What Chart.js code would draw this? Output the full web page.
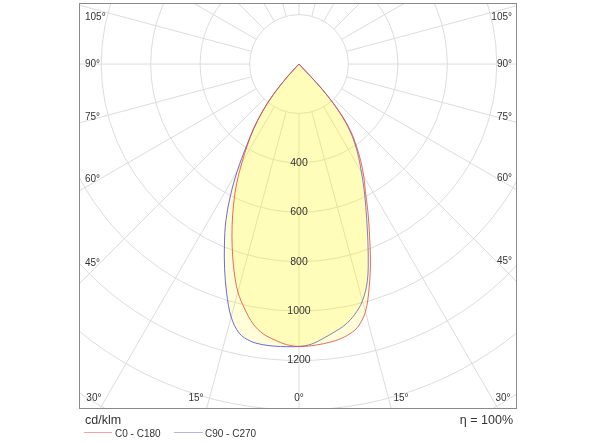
<!DOCTYPE html>
<html>
<head>
<meta charset="utf-8">
<script src="https://cdn.jsdelivr.net/npm/chart.js@4/dist/chart.umd.min.js"></script>
<style>
html,body{margin:0;padding:0;background:#fff;}
#wrap{position:relative;width:600px;height:443px;overflow:hidden;}
#c{position:absolute;left:0;top:0;}
.t{position:absolute;font-family:"Liberation Sans",Arial,sans-serif;color:#333;white-space:nowrap;line-height:1;}
.ln{position:absolute;height:1px;}
</style>
</head>
<body>
<div id="wrap">
<canvas id="c" width="600" height="443"></canvas>
<div class="t" style="left:85px;top:414px;font-size:12.5px;">cd/klm</div>
<div class="t" style="right:87px;top:414px;font-size:12.5px;">η = 100%</div>
<div class="ln" style="left:84px;top:432px;width:28px;background:#f2a5a5;"></div>
<div class="t" style="left:115px;top:429px;font-size:10px;">C0 - C180</div>
<div class="ln" style="left:174px;top:432px;width:29px;background:#b4b4ea;"></div>
<div class="t" style="left:205px;top:429px;font-size:10px;">C90 - C270</div>
</div>
<script>
// gamma angles (deg from nadir)
const angles = [0, 2.5, 5, 7.5, 10, 12.5, 15, 17.5, 20, 22.5, 25, 27.5, 30, 32.5, 35, 37.5, 40, 42.5, 45];
// C0 - C180 plane (cd/klm)
const c0   = [1143,1141,1136,1129,1116,1092,1038,945,845,745,660,582,524,465,405,345,262,145,0];
const c180 = [1143,1137,1121,1102,1068,1015,955,875,790,707,626,547,463,388,320,245,162,65,0];
// C90 - C270 plane (cd/klm)
const c90  = [1143,1135,1115,1094,1072,1039,992,920,819,722,640,570,505,450,395,335,255,140,0];
const c270 = [1143,1145,1146,1145,1138,1116,1060,973,880,788,700,601,499,398,320,245,162,65,0];

const ringValues = [200, 400, 600, 800, 1000, 1200, 1400, 1600];
const ringLabels = [400, 600, 800, 1000, 1200];
const spokeStep = 15;
const sideAngleLabels = [105, 90, 75, 60, 45];
const bottomAngleLabels = [30, 15, 0];
const seriesNames = ['C0 - C180', 'C90 - C270'];

const rad = d => d * Math.PI / 180;
function planePoints(rightVals, leftVals) {
  const pts = [];
  for (let i = angles.length - 1; i >= 0; i--) {
    const a = rad(angles[i]);
    pts.push({x: -leftVals[i] * Math.sin(a), y: -leftVals[i] * Math.cos(a)});
  }
  for (let i = 1; i < angles.length; i++) {
    const a = rad(angles[i]);
    pts.push({x: rightVals[i] * Math.sin(a), y: -rightVals[i] * Math.cos(a)});
  }
  return pts;
}

const FONT = '"Liberation Sans", Arial, sans-serif';

const polarGrid = {
  id: 'polarGrid',
  beforeDatasetsDraw(chart) {
    const {ctx, chartArea: ca, scales: {x: xs, y: ys}} = chart;
    const cx = xs.getPixelForValue(0), cy = ys.getPixelForValue(0);
    ctx.save();
    ctx.beginPath(); ctx.rect(ca.left, ca.top, ca.right - ca.left, ca.bottom - ca.top); ctx.clip();
    ctx.strokeStyle = '#dcdcdc'; ctx.lineWidth = 1;
    ringValues.forEach(r => {
      const rx = xs.getPixelForValue(r) - cx, ry = ys.getPixelForValue(0) - ys.getPixelForValue(r);
      ctx.beginPath(); ctx.ellipse(cx, cy, rx, ry, 0, 0, Math.PI * 2); ctx.stroke();
    });
    const r0 = ringValues[0], r1 = 4000;
    for (let a = 0; a < 360; a += spokeStep) {
      const s = Math.sin(rad(a)), c = Math.cos(rad(a));
      ctx.beginPath();
      ctx.moveTo(xs.getPixelForValue(r0 * s), ys.getPixelForValue(-r0 * c));
      ctx.lineTo(xs.getPixelForValue(r1 * s), ys.getPixelForValue(-r1 * c));
      ctx.stroke();
    }
    ctx.restore();
  },
  afterDatasetsDraw(chart) {
    const {ctx, chartArea: ca, scales: {x: xs, y: ys}} = chart;
    const cx = xs.getPixelForValue(0), cy = ys.getPixelForValue(0);
    ctx.save();
    ctx.fillStyle = '#333';
    ctx.textBaseline = 'middle';
    // radial value labels
    ctx.font = '10.5px ' + FONT;
    ctx.textAlign = 'center';
    ringLabels.forEach(v => ctx.fillText(String(v), cx, ys.getPixelForValue(-v)));
    // side angle labels
    ctx.font = '10px ' + FONT;
    sideAngleLabels.forEach(a => {
      const cot = Math.cos(rad(a)) / Math.sin(rad(a));
      const dl = cx - (ca.left + 21), dr = (ca.right - 21) - cx;
      ctx.textAlign = 'left';
      ctx.fillText(a + '°', ca.left + 6, Math.max(cy + dl * cot, ca.top + 14));
      ctx.textAlign = 'right';
      ctx.fillText(a + '°', ca.right - 5, Math.max(cy + dr * cot, ca.top + 14));
    });
    // bottom angle labels
    const yb = ca.bottom - 11, h = (ca.bottom - 15) - cy;
    bottomAngleLabels.forEach(a => {
      if (a === 0) { ctx.textAlign = 'center'; ctx.fillText('0°', cx, yb); return; }
      const off = h * Math.tan(rad(a));
      ctx.textAlign = 'right'; ctx.fillText(a + '°', cx - off - 7, yb);
      ctx.textAlign = 'left'; ctx.fillText(a + '°', cx + off + 6, yb);
    });
    // frame
    ctx.strokeStyle = '#8a8a8a'; ctx.lineWidth = 1;
    ctx.strokeRect(ca.left + 0.5, ca.top + 0.5, ca.right - ca.left - 1, ca.bottom - ca.top - 1);
    ctx.restore();
  }
};

new Chart(document.getElementById('c'), {
  type: 'scatter',
  data: {
    datasets: [
      {label: seriesNames[0], data: planePoints(c0, c180), showLine: true, pointRadius: 0,
       borderColor: 'rgba(225,70,60,0.8)', borderWidth: 1, tension: 0.35,
       backgroundColor: 'rgba(255,245,0,0.15)', fill: 'shape', order: 1},
      {label: seriesNames[1], data: planePoints(c90, c270), showLine: true, pointRadius: 0,
       borderColor: 'rgba(70,70,220,0.8)', borderWidth: 1, tension: 0.35,
       backgroundColor: 'rgba(255,245,0,0.15)', fill: 'shape', order: 2}
    ]
  },
  options: {
    responsive: false, animation: false, devicePixelRatio: 1,
    layout: {padding: {left: 79, right: 83, top: 3, bottom: 34}},
    scales: {
      x: {type: 'linear', min: -890, max: 882, display: false},
      y: {type: 'linear', min: -1396, max: 247, display: false}
    },
    plugins: {legend: {display: false}, tooltip: {enabled: false}}
  },
  plugins: [polarGrid]
});
</script>
</body>
</html>
